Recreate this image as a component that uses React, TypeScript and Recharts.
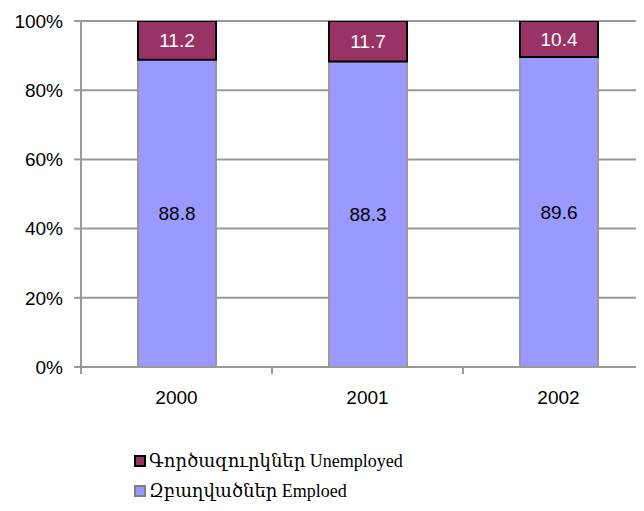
import React from "react";
import {
  BarChart,
  Bar,
  XAxis,
  YAxis,
  CartesianGrid,
  LabelList,
} from "recharts";

const years = ["2000", "2001", "2002"];
const employed = [88.8, 88.3, 89.6];
const unemployed = [11.2, 11.7, 10.4];
const yTicks = [0, 20, 40, 60, 80, 100];
const employedName = "Զբաղվածներ Emploed";
const unemployedName = "Գործազուրկներ Unemployed";

const data = years.map((y, i) => ({
  year: y,
  employed: employed[i],
  unemployed: unemployed[i],
}));

const AXIS_GREY = "#999999";
const FONT = "Arial, 'Liberation Sans', sans-serif";

const XTick = (props: any) => {
  const { x, y, payload } = props;
  const off = payload && payload.offset ? payload.offset : 0;
  return (
    <g>
      <line x1={x - off} y1={y - 8} x2={x - off} y2={y - 1} stroke={AXIS_GREY} strokeWidth={2} />
      <text x={x} y={y + 29} textAnchor="middle" fontFamily={FONT} fontSize={19} fill="#000">
        {payload.value}
      </text>
    </g>
  );
};

const LegendBox = () => {
  const items = [
    { name: unemployedName, fill: "#993366", stroke: "#000" },
    { name: employedName, fill: "#9999FF", stroke: "#808080" },
  ];
  return (
    <div
      style={{
        position: "absolute",
        top: 438,
        left: 126,
        fontFamily: "'Liberation Serif', 'DejaVu Serif', serif",
        fontSize: 18,
        color: "#000",
      }}
    >
      {items.map((it) => (
        <div key={it.name} style={{ display: "flex", alignItems: "center", height: 30 }}>
          <span
            style={{
              display: "inline-block",
              width: 8,
              height: 8,
              background: it.fill,
              border: `2px solid ${it.stroke}`,
              marginRight: 3,
            }}
          />
          <span>{it.name}</span>
        </div>
      ))}
    </div>
  );
};

export default function App() {
  return (
    <div style={{ width: 636, height: 503, overflow: "hidden", position: "relative" }}>
      <BarChart
        width={660}
        height={503}
        data={data}
        margin={{ top: 13, right: 14, left: 0, bottom: 104 }}
        barSize={78}
      >
        <CartesianGrid vertical={false} stroke={AXIS_GREY} strokeWidth={2} />
        <XAxis
          dataKey="year"
          axisLine={{ stroke: AXIS_GREY, strokeWidth: 2 }}
          tickLine={false}
          tick={<XTick />}
          height={40}
          interval={0}
        />
        <YAxis
          type="number"
          domain={[0, 100]}
          ticks={yTicks}
          tickFormatter={(v: number) => `${v}%`}
          axisLine={{ stroke: AXIS_GREY, strokeWidth: 2 }}
          tickLine={{ stroke: AXIS_GREY, strokeWidth: 2 }}
          tickSize={7}
          tickMargin={11}
          width={73}
          tick={{ fill: "#000", fontSize: 19, fontFamily: FONT }}
          allowDataOverflow
        />
        <Bar
          dataKey="employed"
          name={employedName}
          stackId="a"
          fill="#9999FF"
          stroke={AXIS_GREY}
          strokeWidth={2}
          isAnimationActive={false}
        >
          <LabelList dataKey="employed" position="center" fill="#000" fontSize={19} fontFamily={FONT} />
        </Bar>
        <Bar
          dataKey="unemployed"
          name={unemployedName}
          stackId="a"
          fill="#993366"
          stroke="#000"
          strokeWidth={2}
          isAnimationActive={false}
        >
          <LabelList dataKey="unemployed" position="center" fill="#fff" fontSize={19} fontFamily={FONT} />
        </Bar>
      </BarChart>
      <LegendBox />
    </div>
  );
}
